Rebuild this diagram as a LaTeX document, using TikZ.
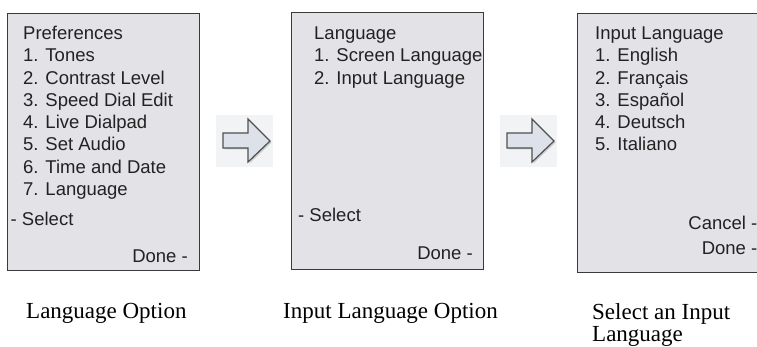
\documentclass[tikz,border=0pt]{standalone}
\usepackage{fontspec}
\setmainfont{Liberation Serif}
\newfontfamily\arialf{Liberation Sans}
\definecolor{screenfill}{HTML}{E3E3E7}
\definecolor{screenline}{HTML}{3A3A3A}
\definecolor{menutext}{HTML}{222222}
\definecolor{arrowbg}{HTML}{F2F3F5}
\definecolor{arrowfill}{HTML}{DDE2EA}
\definecolor{arrowline}{HTML}{505050}
\begin{document}
\begin{tikzpicture}[x=1pt,y=-1pt,
  screen/.style={draw=screenline, fill=screenfill, line width=1.3pt, inner sep=0pt, anchor=north west},
  menu/.style={inner sep=0pt, text=menutext, font=\arialf\fontsize{18.5}{22}\selectfont},
  capt/.style={inner sep=0pt, text=black, font=\fontsize{23}{25}\selectfont, anchor=base west},
  arrowbox/.style={fill=arrowbg, draw=none},
  blockarrow/.style={fill=arrowfill, draw=arrowline, line width=1.2pt, line join=miter},
  arrowshadow/.style={fill=black!35, opacity=0.5, draw=none}
]
\useasboundingbox (0,0) rectangle (757,347);
\clip (0,0) rectangle (757,347);
\fill[white] (0,0) rectangle (757,347);

% screens
\node[screen, minimum width=192pt, minimum height=257pt] (s1) at (7,13) {};
\node[screen, minimum width=192pt, minimum height=257pt] (s2) at (291,12) {};
\node[screen, minimum width=200pt, minimum height=259pt] (s3) at (577,13) {};

% screen 1 text
\foreach \t [count=\i from 0] in {Preferences,1. Tones,2. Contrast Level,3. Speed Dial Edit,4. Live Dialpad,5. Set Audio,6. Time and Date,7. Language}
  \node[menu, anchor=base west] (a\i) at (23,{39.5+22.3*\i}) {\t};
\node[menu, anchor=base west] (a8) at (10.5,226) {- Select};
\node[menu, anchor=base east] (a9) at (188,262) {Done -};

% screen 2 text
\foreach \t [count=\i from 0] in {Language,1. Screen Language,2. Input Language}
  \node[menu, anchor=base west] (b\i) at (314,{39.5+22.3*\i}) {\t};
\node[menu, anchor=base west] (b3) at (298,222) {- Select};
\node[menu, anchor=base east] (b4) at (473,260) {Done -};

% screen 3 text
\foreach \t [count=\i from 0] in {Input Language,1. English,2. Français,3. Español,4. Deutsch,5. Italiano}
  \node[menu, anchor=base west] (d\i) at (595,{39.5+22.3*\i}) {\t};
\node[menu, anchor=base east] (d6) at (757.5,229.5) {Cancel -};
\node[menu, anchor=base east] (d7) at (757.5,254.5) {Done -};

% arrows
\foreach \dx/\nm in {0/r1,284/r2}{
  \begin{scope}[xshift=\dx pt]
    \fill[arrowbox] (216,115) rectangle (273,167);
    \fill[arrowshadow] (224.5,134.5) -- (249.5,134.5) -- (249.5,120.5) -- (271.5,142.5) -- (249.5,163.5) -- (249.5,149.5) -- (224.5,149.5) -- cycle;
    \draw[blockarrow] (223,133) -- (248,133) -- (248,119) -- (270,141) -- (248,162) -- (248,148) -- (223,148) -- cycle;
  \end{scope}
}

% captions
\node[capt] (c1) at (26,318) {Language Option};
\node[capt] (c2) at (283,318) {Input Language Option};
\node[capt] (c3) at (592,319) {Select an Input};
\node[capt] (c4) at (592,341) {Language};
\end{tikzpicture}
\end{document}
